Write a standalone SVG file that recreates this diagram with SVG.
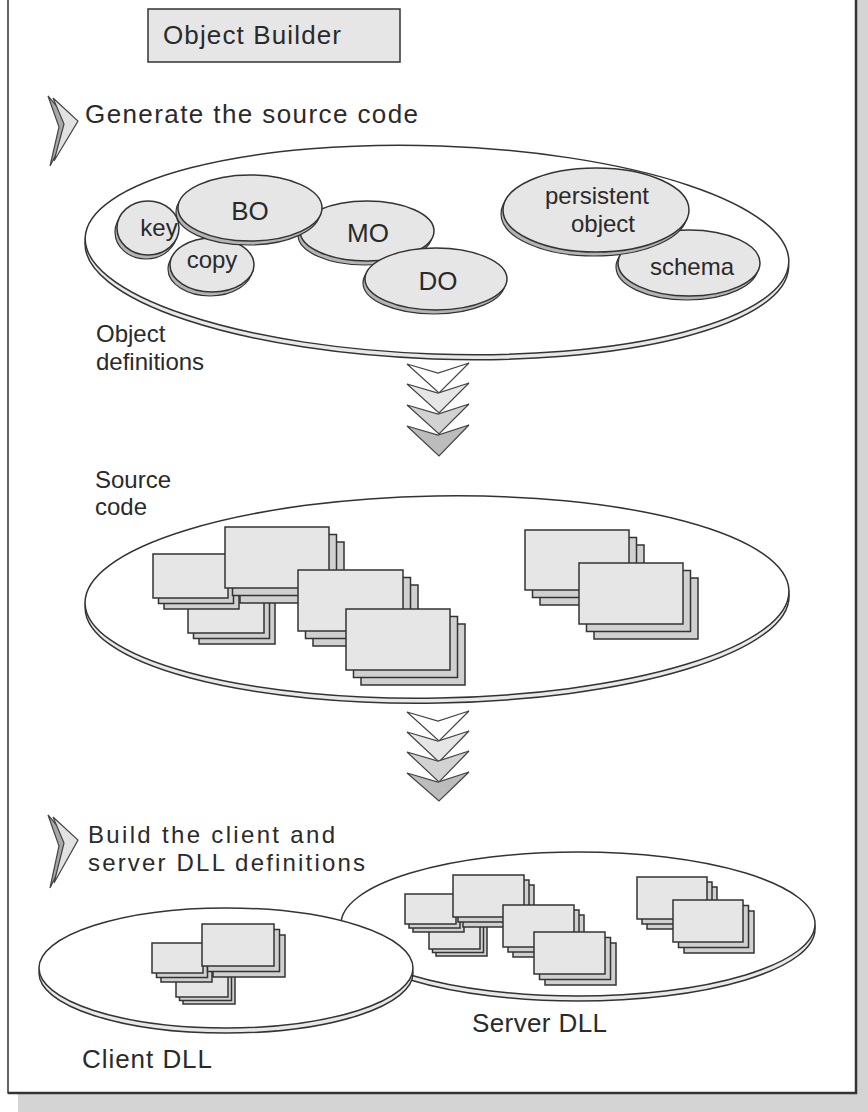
<svg xmlns="http://www.w3.org/2000/svg" width="868" height="1112" viewBox="0 0 868 1112">
<defs>
<style>
.t{font-family:"Liberation Sans",Arial,sans-serif;font-size:26px;fill:#2a2a2a}
.s{font-size:24px}
.frame{fill:#fff;stroke:#333;stroke-width:1.5}
.shadow{fill:#d4d4d4}
.disk{fill:#fff;stroke:#333;stroke-width:1.5}
.diskrim{fill:#e8e8e8;stroke:#333;stroke-width:1.5}
.blob{fill:#e6e6e6;stroke:#333;stroke-width:1.5}
.blobrim{fill:#b4b4b4;stroke:#333;stroke-width:1.2}
.doc{fill:#e6e6e6;stroke:#333;stroke-width:1.5}
.docb{fill:#d0d0d0;stroke:#333;stroke-width:1.5}
.chv{stroke:#444;stroke-width:1.2;stroke-linejoin:miter}
</style>
</defs>

<g id="frame">
<rect class="shadow" x="18" y="0" width="850" height="1112"/>
<rect class="frame" x="8" y="-10" width="848" height="1103"/>
<path d="M856,-10 V1093 H8" fill="none" stroke="#333" stroke-width="2.5"/>
</g>

<g id="title">
<rect x="148" y="9" width="252" height="53" fill="#e6e6e6" stroke="#333" stroke-width="1.5"/>
<text class="t" x="163" y="44" textLength="178">Object Builder</text>
</g>

<g id="step1">
<polygon points="48,96 72,124 50,166 59,127" fill="#a8a8a8" stroke="#444" stroke-width="1.2"/>
<polygon points="53,98 78,121 54,161 64,124" fill="#e2e2e2" stroke="#444" stroke-width="1.2"/>
<text class="t" x="85" y="123" textLength="333">Generate the source code</text>
</g>

<g id="object-definitions">
<g transform="rotate(2 437 250)">
<ellipse class="diskrim" cx="437" cy="255" rx="352" ry="104"/>
<ellipse class="disk" cx="437" cy="250" rx="352" ry="104"/>
</g>
<text class="t s" x="96" y="342">Object</text>
<text class="t s" x="96" y="370">definitions</text>
</g>

<g id="key">
<ellipse class="blobrim" cx="146" cy="232" rx="31" ry="27"/>
<ellipse class="blob" cx="148" cy="228" rx="31" ry="27"/>
<text class="t s" x="159" y="236" text-anchor="middle">key</text>
</g>
<g id="copy">
<ellipse class="blobrim" cx="210" cy="269" rx="42" ry="27"/>
<ellipse class="blob" cx="212" cy="265" rx="42" ry="27"/>
<text class="t s" x="212" y="268" text-anchor="middle">copy</text>
</g>
<g id="MO">
<ellipse class="blobrim" cx="365" cy="235" rx="67" ry="30"/>
<ellipse class="blob" cx="367" cy="231" rx="67" ry="30"/>
<text class="t" x="368" y="242" text-anchor="middle">MO</text>
</g>
<g id="BO">
<ellipse class="blobrim" cx="248" cy="212" rx="72" ry="33"/>
<ellipse class="blob" cx="250" cy="208" rx="72" ry="33"/>
<text class="t" x="250" y="220" text-anchor="middle">BO</text>
</g>
<g id="DO">
<ellipse class="blobrim" cx="434" cy="283" rx="71" ry="31"/>
<ellipse class="blob" cx="436" cy="279" rx="71" ry="31"/>
<text class="t" x="438" y="290" text-anchor="middle">DO</text>
</g>
<g id="schema">
<ellipse class="blobrim" cx="687" cy="267" rx="71" ry="33"/>
<ellipse class="blob" cx="689" cy="263" rx="71" ry="33"/>
<text class="t s" x="692" y="275" text-anchor="middle">schema</text>
</g>
<g id="persistent-object">
<ellipse class="blobrim" cx="594" cy="214" rx="93" ry="42"/>
<ellipse class="blob" cx="596" cy="210" rx="93" ry="42"/>
<text class="t s" x="597" y="204" text-anchor="middle">persistent</text>
<text class="t s" x="603" y="232" text-anchor="middle">object</text>
</g>

<g id="source-code">
<g transform="rotate(-1 437 597)">
<ellipse class="diskrim" cx="437" cy="602" rx="352" ry="101"/>
<ellipse class="disk" cx="437" cy="597" rx="352" ry="101"/>
</g>
<text class="t s" x="95" y="488">Source</text>
<text class="t s" x="95" y="515">code</text>
</g>

<g id="src-stack-C"><rect class="docb" x="199" y="600" width="76" height="44"/><rect class="docb" x="193.5" y="594.5" width="76" height="44"/><rect class="doc" x="188" y="589" width="76" height="44"/></g>
<g id="src-stack-A"><rect class="docb" x="164" y="565" width="75" height="44"/><rect class="docb" x="158.5" y="559.5" width="75" height="44"/><rect class="doc" x="153" y="554" width="75" height="44"/></g>
<g id="src-stack-B"><rect class="docb" x="240" y="542" width="104" height="61"/><rect class="docb" x="232.5" y="534.5" width="104" height="61"/><rect class="doc" x="225" y="527" width="104" height="61"/></g>
<g id="src-stack-D"><rect class="docb" x="313" y="585" width="105" height="61"/><rect class="docb" x="305.5" y="577.5" width="105" height="61"/><rect class="doc" x="298" y="570" width="105" height="61"/></g>
<g id="src-stack-E"><rect class="docb" x="361" y="624" width="104" height="61"/><rect class="docb" x="353.5" y="616.5" width="104" height="61"/><rect class="doc" x="346" y="609" width="104" height="61"/></g>
<g id="src-stack-F"><rect class="docb" x="540" y="545" width="104" height="60"/><rect class="docb" x="532.5" y="537.5" width="104" height="60"/><rect class="doc" x="525" y="530" width="104" height="60"/></g>
<g id="src-stack-G"><rect class="docb" x="594" y="578" width="104" height="61"/><rect class="docb" x="586.5" y="570.5" width="104" height="61"/><rect class="doc" x="579" y="563" width="104" height="61"/></g>

<g id="step2">
<polygon points="48,815 72,843 50,888 59,846" fill="#a8a8a8" stroke="#444" stroke-width="1.2"/>
<polygon points="53,817 78,840 54,883 64,843" fill="#e2e2e2" stroke="#444" stroke-width="1.2"/>
<text class="t s" x="88" y="843" textLength="247">Build the client and</text>
<text class="t s" x="88" y="871" textLength="277">server DLL definitions</text>
</g>

<g id="server-dll">
<ellipse class="diskrim" cx="578" cy="929" rx="237" ry="72"/>
<ellipse class="disk" cx="578" cy="924" rx="237" ry="72"/>
<text class="t" x="472" y="1032" textLength="135">Server DLL</text>
</g>

<g id="client-dll">
<ellipse class="diskrim" cx="226" cy="973" rx="187" ry="60"/>
<ellipse class="disk" cx="226" cy="968" rx="187" ry="60"/>
<text class="t" x="82" y="1068" textLength="130">Client DLL</text>
</g>

<g id="cli-stack-3"><rect class="docb" x="183" y="974" width="52" height="30"/><rect class="docb" x="179.5" y="970.5" width="52" height="30"/><rect class="doc" x="176" y="967" width="52" height="30"/></g>
<g id="cli-stack-1"><rect class="docb" x="161" y="952" width="51" height="30"/><rect class="docb" x="156.5" y="947.5" width="51" height="30"/><rect class="doc" x="152" y="943" width="51" height="30"/></g>
<g id="cli-stack-2"><rect class="docb" x="213" y="935" width="72" height="42"/><rect class="docb" x="207.5" y="929.5" width="72" height="42"/><rect class="doc" x="202" y="924" width="72" height="42"/></g>

<g id="srv-stack-3"><rect class="docb" x="436" y="926" width="51" height="30"/><rect class="docb" x="432.5" y="922.5" width="51" height="30"/><rect class="doc" x="429" y="919" width="51" height="30"/></g>
<g id="srv-stack-1"><rect class="docb" x="413" y="902" width="51" height="30"/><rect class="docb" x="409" y="898" width="51" height="30"/><rect class="doc" x="405" y="894" width="51" height="30"/></g>
<g id="srv-stack-2"><rect class="docb" x="463" y="885" width="71" height="42"/><rect class="docb" x="458" y="880" width="71" height="42"/><rect class="doc" x="453" y="875" width="71" height="42"/></g>
<g id="srv-stack-4"><rect class="docb" x="513" y="915" width="71" height="42"/><rect class="docb" x="508" y="910" width="71" height="42"/><rect class="doc" x="503" y="905" width="71" height="42"/></g>
<g id="srv-stack-5"><rect class="docb" x="545" y="943" width="71" height="42"/><rect class="docb" x="539.5" y="937.5" width="71" height="42"/><rect class="doc" x="534" y="932" width="71" height="42"/></g>
<g id="srv-stack-6"><rect class="docb" x="647" y="887" width="70" height="42"/><rect class="docb" x="642" y="882" width="70" height="42"/><rect class="doc" x="637" y="877" width="70" height="42"/></g>
<g id="srv-stack-7"><rect class="docb" x="684" y="911" width="70" height="42"/><rect class="docb" x="678.5" y="905.5" width="70" height="42"/><rect class="doc" x="673" y="900" width="70" height="42"/></g>

<g id="connectors">
<polygon class="chv" fill="#ffffff" points="407,364 438,373 469,363 439,393"/>
<polygon class="chv" fill="#e6e6e6" points="407,384 438,393 469,383 439,413"/>
<polygon class="chv" fill="#d2d2d2" points="407,405 438,414 469,404 439,434"/>
<polygon class="chv" fill="#bcbcbc" points="407,426 438,435 469,425 439,456"/>
<polygon class="chv" fill="#ffffff" points="407,712 438,721 469,711 439,741"/>
<polygon class="chv" fill="#e6e6e6" points="407,732 438,741 469,731 439,762"/>
<polygon class="chv" fill="#d2d2d2" points="407,752 438,761 469,751 439,782"/>
<polygon class="chv" fill="#bcbcbc" points="407,773 438,782 469,772 439,801"/>
</g>
</svg>
